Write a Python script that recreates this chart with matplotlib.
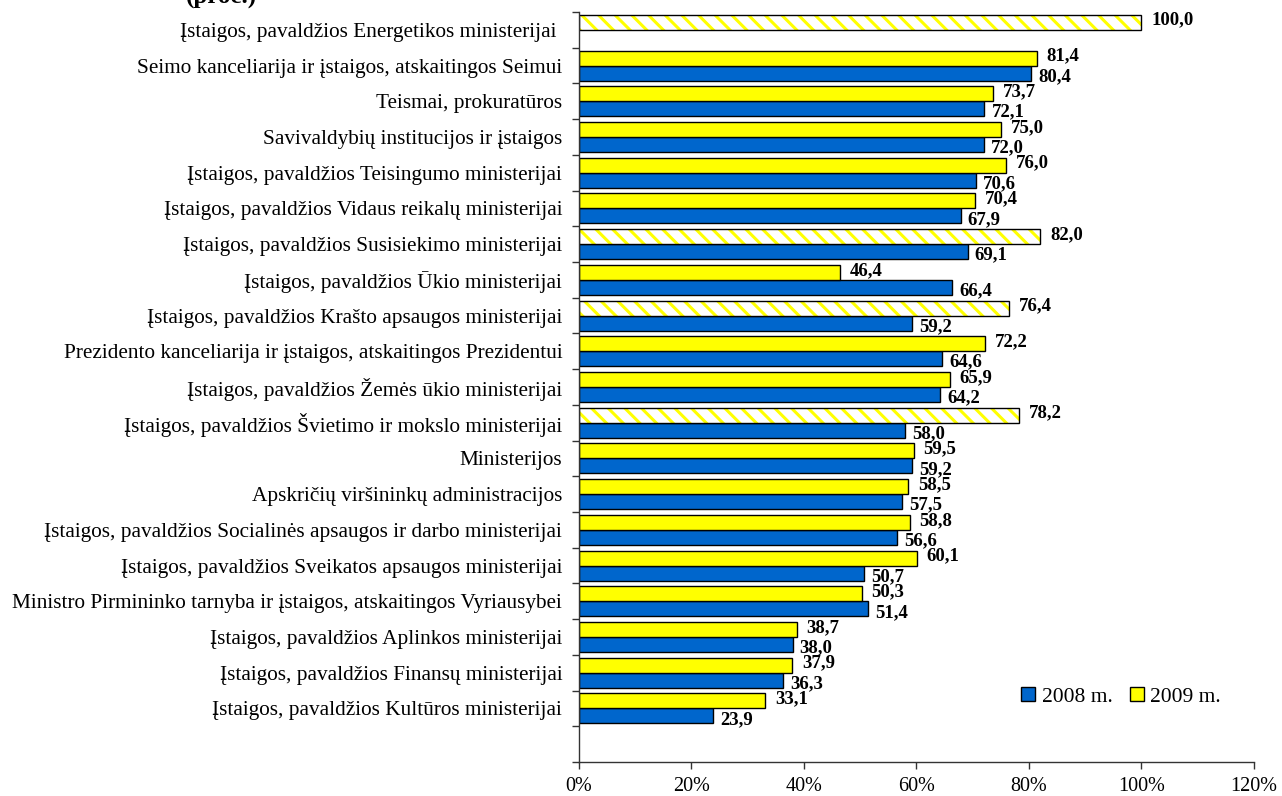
import numpy as np
import matplotlib
matplotlib.use('Agg')
import matplotlib.pyplot as plt
from matplotlib.ticker import FuncFormatter

plt.rcParams['font.family'] = ['Liberation Serif', 'DejaVu Serif']
plt.rcParams['hatch.linewidth'] = 2.2

# categories from top to bottom (last slot on the axis is left empty)
categories = [
    'Įstaigos, pavaldžios Energetikos ministerijai ',
    'Seimo kanceliarija ir įstaigos, atskaitingos Seimui',
    'Teismai, prokuratūros',
    'Savivaldybių institucijos ir įstaigos',
    'Įstaigos, pavaldžios Teisingumo ministerijai',
    'Įstaigos, pavaldžios Vidaus reikalų ministerijai',
    'Įstaigos, pavaldžios Susisiekimo ministerijai',
    'Įstaigos, pavaldžios Ūkio ministerijai',
    'Įstaigos, pavaldžios Krašto apsaugos ministerijai',
    'Prezidento kanceliarija ir įstaigos, atskaitingos Prezidentui',
    'Įstaigos, pavaldžios Žemės ūkio ministerijai',
    'Įstaigos, pavaldžios Švietimo ir mokslo ministerijai',
    'Ministerijos',
    'Apskričių viršininkų administracijos',
    'Įstaigos, pavaldžios Socialinės apsaugos ir darbo ministerijai',
    'Įstaigos, pavaldžios Sveikatos apsaugos ministerijai',
    'Ministro Pirmininko tarnyba ir įstaigos, atskaitingos Vyriausybei',
    'Įstaigos, pavaldžios Aplinkos ministerijai',
    'Įstaigos, pavaldžios Finansų ministerijai',
    'Įstaigos, pavaldžios Kultūros ministerijai',
]
v2008 = [np.nan, 80.4, 72.1, 72.0, 70.6, 67.9, 69.1, 66.4, 59.2, 64.6, 64.2,
         58.0, 59.2, 57.5, 56.6, 50.7, 51.4, 38.0, 36.3, 23.9]
v2009 = [100.0, 81.4, 73.7, 75.0, 76.0, 70.4, 82.0, 46.4, 76.4, 72.2, 65.9,
         78.2, 59.5, 58.5, 58.8, 60.1, 50.3, 38.7, 37.9, 33.1]
# 2009 bars drawn striped in the original
striped_2009 = [True, False, False, False, False, False, True, False, True, False, False,
                True, False, False, False, False, False, False, False, False]
series_names = ['2008 m.', '2009 m.']
xticks = [0, 20, 40, 60, 80, 100, 120]

blue = '#0066CC'
yellow = '#FFFF00'

n = len(categories)
nslots = n + 1
y = np.array([nslots - 1 - i for i in range(n)], dtype=float)
h = 0.42
y09 = y + h / 2
y08 = y - h / 2
a08 = np.array(v2008)
a09 = np.array(v2009)
striped = np.array(striped_2009)

fig = plt.figure(figsize=(12.82, 7.96), dpi=100)
ax = fig.add_axes([0.4516, 0.0427, 0.5265, 0.9423])

ax.barh(y08, a08, height=h, color=blue, edgecolor='black', linewidth=1.0)
ax.barh(y09[~striped], a09[~striped], height=h, color=yellow, edgecolor='black', linewidth=1.0)
# striped bars: white with yellow diagonal stripes, black outline on top
ax.barh(y09[striped], a09[striped], height=h, color='white', edgecolor=yellow,
        hatch='\\\\', linewidth=0)
ax.barh(y09[striped], a09[striped], height=h, color='none', edgecolor='black', linewidth=1.0)

def fmt(v):
    return ('%.1f' % v).replace('.', ',')

for yy, v in zip(y09, a09):
    ax.annotate(fmt(v), xy=(v, yy), xytext=(7, 1.5), textcoords='offset points',
                ha='left', va='center', fontsize=13.5, fontweight='bold')
for yy, v in zip(y08, a08):
    if np.isnan(v):
        continue
    ax.annotate(fmt(v), xy=(v, yy), xytext=(5, -2.5), textcoords='offset points',
                ha='left', va='center', fontsize=13.5, fontweight='bold')

ax.set_xlim(0, 120)
ax.set_ylim(-0.5, nslots - 0.5)
ax.set_xticks(xticks)
ax.xaxis.set_major_formatter(FuncFormatter(lambda v, p: '%d%%' % v))
ax.set_yticks(np.arange(-0.5, nslots, 1.0))
ax.set_yticklabels([])
ax.set_yticks(y, minor=True)
ax.set_yticklabels(categories, minor=True)
ax.tick_params(axis='y', which='minor', length=0, pad=12, labelsize=15.3)
ax.tick_params(axis='y', which='major', direction='out', length=5, width=1, color='#333333')
ax.tick_params(axis='x', direction='out', length=5, width=1, color='#333333',
               labelsize=14.5, pad=6)
for s in ['top', 'right']:
    ax.spines[s].set_visible(False)
for s in ['left', 'bottom']:
    ax.spines[s].set_color('#333333')
    ax.spines[s].set_linewidth(1)

handles = [plt.Rectangle((0, 0), 1, 1, facecolor=blue, edgecolor='black', linewidth=1),
           plt.Rectangle((0, 0), 1, 1, facecolor=yellow, edgecolor='black', linewidth=1)]
ax.legend(handles, series_names, loc='center', bbox_to_anchor=(0.803, 0.087), ncol=2,
          frameon=False, fontsize=15.5, handlelength=0.65, handleheight=0.65,
          handletextpad=0.3, columnspacing=0.8)

# title line above, mostly cut off by the top edge
fig.text(0.145, 0.996, '(proc.)', fontsize=18, fontweight='bold', va='baseline', ha='left')

fig.savefig('out.png', dpi=100)
